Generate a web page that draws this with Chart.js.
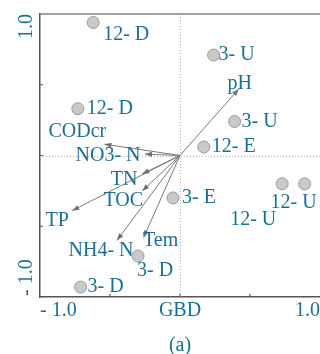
<!DOCTYPE html>
<html>
<head>
<meta charset="utf-8">
<script src="https://cdn.jsdelivr.net/npm/chart.js@4.4.1/dist/chart.umd.min.js"></script>
<style>
  html, body { margin: 0; padding: 0; background: #fff; overflow: hidden; }
  #rda { display: block; }
</style>
</head>
<body>
<canvas id="rda" width="320" height="354"></canvas>
<script>
// sampling sites (axis 1, axis 2 scores)
const siteNames = ['12- D', '12- D', '3- U', '3- U', '12- E', '3- E', '12- U', '12- U', '3- D', '3- D'];
const siteX = [-0.62, -0.73, 0.24, 0.39, 0.17, -0.05, 0.73, 0.89, -0.30, -0.71];
const siteY = [0.94, 0.33, 0.71, 0.24, 0.06, -0.30, -0.20, -0.20, -0.71, -0.93];

// environmental variables (arrow tips)
const envNames = ['pH', 'CODcr', 'NO3- N', 'TN', 'TOC', 'TP', 'NH4- N', 'Tem'];
const envX = [0.42, -0.54, -0.25, -0.27, -0.27, -0.77, -0.45, -0.26];
const envY = [0.47, 0.08, 0.01, -0.13, -0.25, -0.39, -0.60, -0.58];

// axis ticks
const xTickValues = [-1, -0.5, 0, 0.5, 1];
const xTickLabels = ['- 1.0', '', 'GBD', '', '1.0'];
const yTickValues = [-1, 1];
const yTickLabels = ['- 1.0', '1.0'];
const innerTicks = [-0.5, 0, 0.5];

// where each text sits relative to its mark (px)
const siteLabelOffset = [[10, 12, 'left'], [9, 0, 'left'], [5, 0, 'left'], [7, 0, 'left'], [8, 0, 'left'],
  [9, 0, 'left'], [-29, 36, 'center'], [-11, 19, 'center'], [-1, 15, 'left'], [7, 0, 'left']];
const envLabelOffset = [[1, -5], [-27, -12], [-37, 2], [-18, 6], [-19, 10], [-15, 10], [-16, 10], [17, 3]];

const textColor = '#1b6f93';
const serif = '"Liberation Serif", "Times New Roman", serif';
const fontPx = 20;

const sitePoints = siteX.map((x, i) => ({ x: x, y: siteY[i] }));
const arrowSets = envX.map((x, i) => ({
  type: 'line',
  data: [{ x: 0, y: 0 }, { x: x, y: envY[i] }],
  borderColor: '#7a7a7a',
  borderWidth: 1,
  pointRadius: 0,
  fill: false
}));

const biplotDecor = {
  id: 'biplotDecor',
  beforeDatasetsDraw(chart) {
    const { ctx, chartArea: a, scales: { x, y } } = chart;
    ctx.save();
    // dotted zero lines
    ctx.strokeStyle = '#b0b0b0';
    ctx.lineWidth = 1;
    ctx.setLineDash([1, 2]);
    ctx.beginPath();
    ctx.moveTo(a.left, Math.round(y.getPixelForValue(0)) + 0.5);
    ctx.lineTo(a.right, Math.round(y.getPixelForValue(0)) + 0.5);
    ctx.moveTo(Math.round(x.getPixelForValue(0)) + 0.5, a.top);
    ctx.lineTo(Math.round(x.getPixelForValue(0)) + 0.5, a.bottom);
    ctx.stroke();
    ctx.setLineDash([]);
    // top frame line
    ctx.strokeStyle = '#808080';
    ctx.lineWidth = 1.5;
    ctx.beginPath();
    ctx.moveTo(a.left, a.top);
    ctx.lineTo(a.right, a.top);
    ctx.stroke();
    // short inward tick marks
    ctx.strokeStyle = '#555';
    ctx.lineWidth = 1.2;
    ctx.beginPath();
    innerTicks.forEach(v => {
      const px = x.getPixelForValue(v);
      ctx.moveTo(px, a.bottom);
      ctx.lineTo(px, a.bottom - 3);
      const py = y.getPixelForValue(v);
      ctx.moveTo(a.left, py);
      ctx.lineTo(a.left + 3, py);
    });
    ctx.stroke();
    ctx.restore();
  },
  afterDatasetsDraw(chart) {
    const { ctx, chartArea: a, scales: { x, y } } = chart;
    const ox = x.getPixelForValue(0), oy = y.getPixelForValue(0);
    ctx.save();
    // arrow heads
    ctx.fillStyle = '#707070';
    envX.forEach((v, i) => {
      const tx = x.getPixelForValue(v), ty = y.getPixelForValue(envY[i]);
      const ang = Math.atan2(ty - oy, tx - ox);
      ctx.save();
      ctx.translate(tx, ty);
      ctx.rotate(ang);
      ctx.beginPath();
      ctx.moveTo(0, 0);
      ctx.lineTo(-7, -2.6);
      ctx.lineTo(-7, 2.6);
      ctx.closePath();
      ctx.fill();
      ctx.restore();
    });
    // texts
    ctx.font = fontPx + 'px ' + serif;
    ctx.fillStyle = textColor;
    ctx.textBaseline = 'middle';
    siteNames.forEach((name, i) => {
      const [dx, dy, al] = siteLabelOffset[i];
      ctx.textAlign = al;
      ctx.fillText(name, x.getPixelForValue(siteX[i]) + dx, y.getPixelForValue(siteY[i]) + dy);
    });
    ctx.textAlign = 'center';
    envNames.forEach((name, i) => {
      const [dx, dy] = envLabelOffset[i];
      ctx.fillText(name, x.getPixelForValue(envX[i]) + dx, y.getPixelForValue(envY[i]) + dy);
    });
    // rotated y tick labels, kept inside the axis ends
    ctx.textBaseline = 'alphabetic';
    yTickValues.forEach((v, i) => {
      const py = y.getPixelForValue(v);
      ctx.save();
      ctx.translate(a.left - 8, v > 0 ? py : py - 1);
      ctx.rotate(-Math.PI / 2);
      ctx.textAlign = v > 0 ? 'right' : 'left';
      ctx.fillText(yTickLabels[i], 0, 0);
      ctx.restore();
    });
    ctx.restore();
  }
};

new Chart(document.getElementById('rda'), {
  type: 'scatter',
  data: {
    datasets: [{
      data: sitePoints,
      pointRadius: 6,
      pointBackgroundColor: '#c9c9c9',
      pointBorderColor: '#9a9a9a',
      pointBorderWidth: 1
    }].concat(arrowSets)
  },
  options: {
    responsive: false,
    animation: false,
    devicePixelRatio: 1,
    layout: { autoPadding: false, padding: { left: 40, top: 14, right: 0, bottom: 0 } },
    plugins: { legend: { display: false }, tooltip: { enabled: false } },
    scales: {
      x: {
        min: -1,
        max: 1,
        afterBuildTicks: s => { s.ticks = xTickValues.map(v => ({ value: v })); },
        ticks: {
          autoSkip: false,
          maxRotation: 0,
          align: 'inner',
          padding: 0,
          color: textColor,
          font: { family: serif, size: fontPx, lineHeight: 1.4 },
          callback: (v, i) => xTickLabels[i]
        },
        grid: { display: false, drawTicks: false },
        border: { display: true, color: '#555', width: 1.5 },
        title: {
          display: true,
          text: '(a)',
          color: textColor,
          font: { family: serif, size: fontPx, lineHeight: 0.8 },
          padding: { top: 13, bottom: 0 }
        }
      },
      y: {
        min: -1,
        max: 1,
        ticks: { display: false },
        grid: { display: false, drawTicks: false },
        border: { display: true, color: '#555', width: 1.5 }
      }
    }
  },
  plugins: [biplotDecor]
});
</script>
</body>
</html>
